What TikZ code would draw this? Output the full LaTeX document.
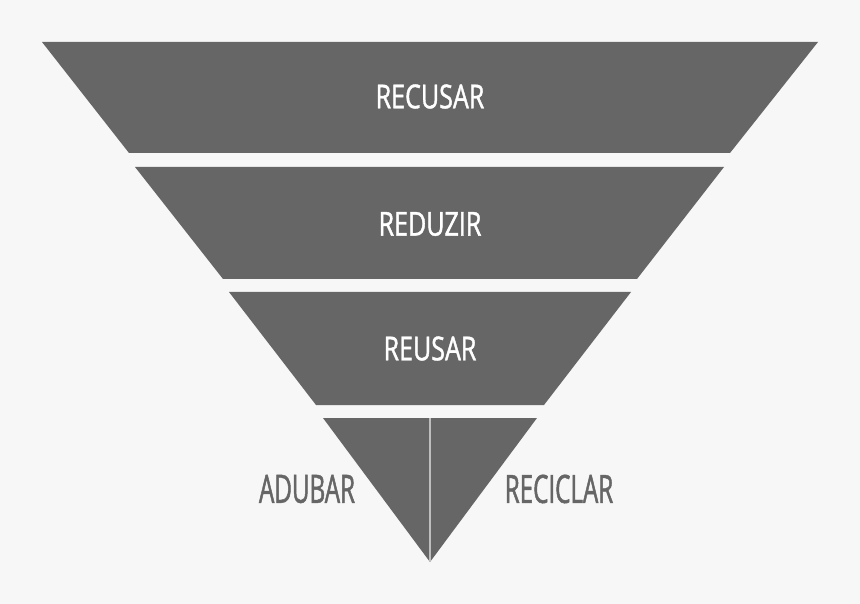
\documentclass[tikz,border=0pt]{standalone}
\usepackage{fontspec}
\setmainfont[FakeStretch=0.76, FakeBold=1.2]{Open Sans}
\newfontfamily\sidefont[FakeStretch=0.62, FakeBold=1.2]{Open Sans}
\usepackage{tikz}
\definecolor{mygray}{RGB}{102,102,102}
\definecolor{mybg}{RGB}{247,247,247}
\definecolor{myline}{RGB}{190,190,190}

\begin{document}
\begin{tikzpicture}[x=1pt, y=-1pt, font=\fontsize{33}{33}\selectfont,
		band/.style={fill=mygray},
		inlabel/.style={text=white, inner sep=0pt},
		sidelabel/.style={text=mygray, inner sep=0pt, font=\sidefont\fontsize{39}{39}\selectfont}]
				%Hintergrund
				\fill[mybg] (0,0) rectangle (860,604);
				\useasboundingbox (0,0) rectangle (860,604);
				%Baender zeichnen
				\fill[band] (42,42) -- (818,42) -- (730,153) -- (129,153) -- cycle;
				\fill[band] (135,167) -- (724,167) -- (637,279) -- (223,279) -- cycle;
				\fill[band] (229,292) -- (631,292) -- (544,405) -- (316,405) -- cycle;
				\fill[band] (323,418) -- (537,418) -- (430,562) -- cycle;
				% Trennlinie
				\coordinate (mitte) at (430,418);
				\coordinate (spitze) at (430,562);
				\draw[myline, line width=1.5pt] (mitte) -- (spitze);
				%Beschriftung
				\node[inlabel] (recusar) at (430,96.5) {RECUSAR};
				\node[inlabel] (reduzir) at (430,224) {REDUZIR};
				\node[inlabel] (reusar) at (430,348.5) {REUSAR};
				\node[sidelabel] (adubar) at (307,489) {ADUBAR};
				\node[sidelabel] (reciclar) at (559,489) {RECICLAR};
		\end{tikzpicture}
\end{document}
